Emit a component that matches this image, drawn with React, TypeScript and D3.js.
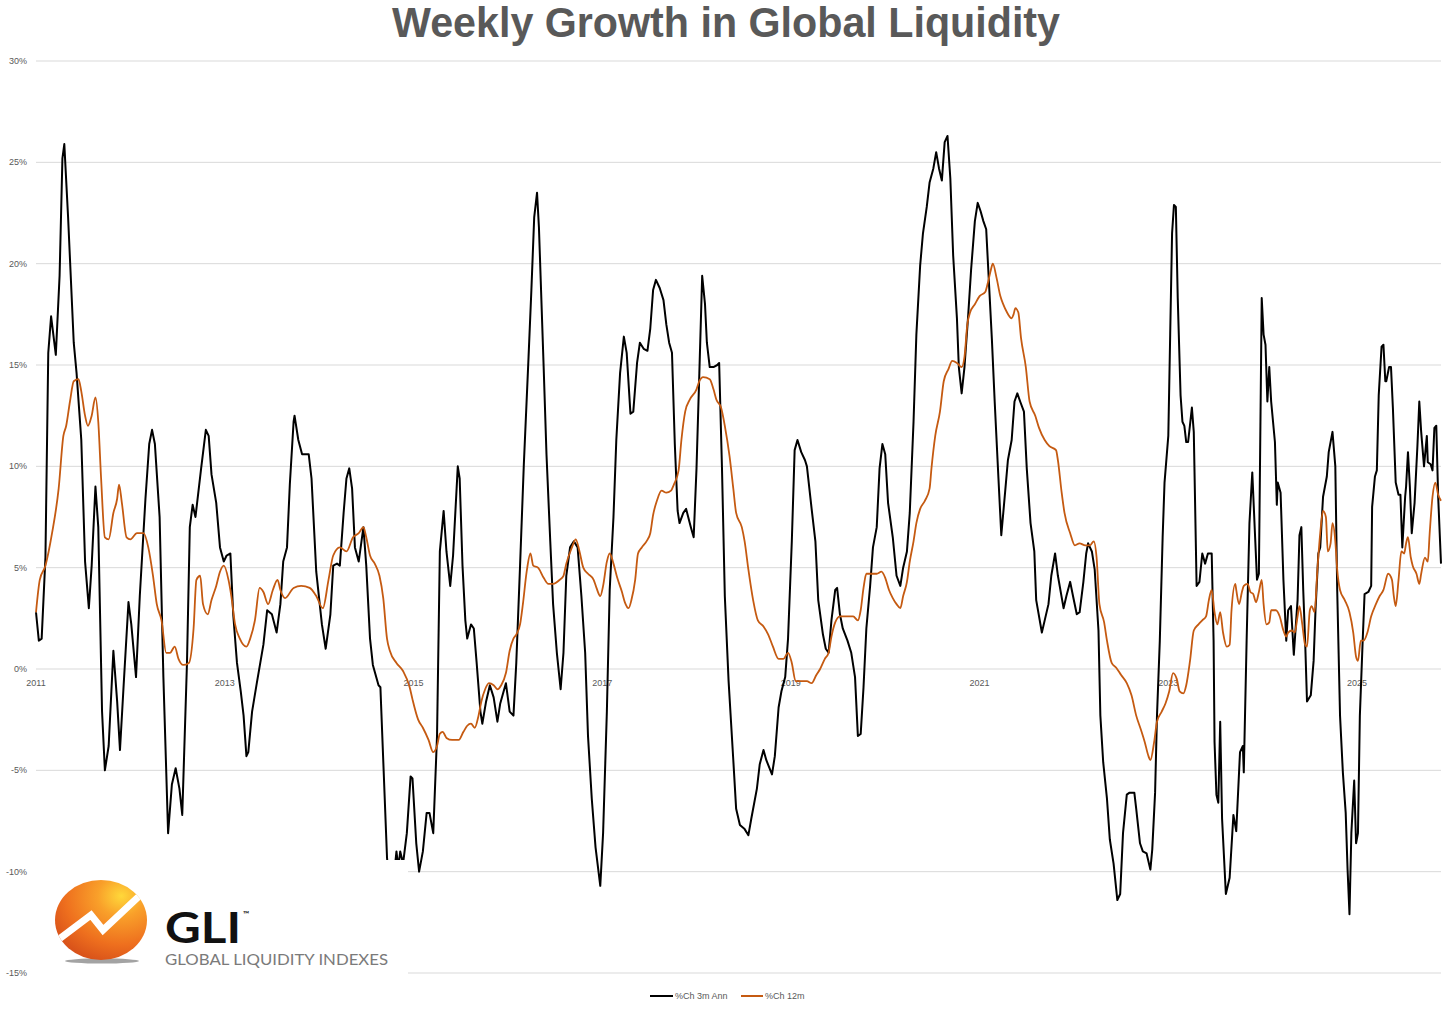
import React from "react";
import * as d3 from "d3";

// ---------- DATA ----------
const yTicks = [30, 25, 20, 15, 10, 5, 0, -5, -10, -15];
const xTickYears = [2011, 2013, 2015, 2017, 2019, 2021, 2023, 2025];
const seriesNames = ["%Ch 3m Ann", "%Ch 12m"];

// %Ch 3m Ann : [decimal year, %]
const ch3mAnn: [number, number][] = [
  [2011.00, 2.8], [2011.03, 1.4], [2011.06, 1.5], [2011.10, 5.5], [2011.13, 15.6], [2011.16, 17.4],
  [2011.21, 15.5], [2011.25, 19.4], [2011.28, 25.2], [2011.30, 25.9], [2011.34, 22.3], [2011.40, 16.1],
  [2011.43, 14.6], [2011.48, 11.3], [2011.52, 5.3], [2011.56, 3.0], [2011.59, 5.1], [2011.63, 9.0],
  [2011.66, 7.0], [2011.70, -2.1], [2011.73, -5.0], [2011.77, -3.8], [2011.82, 0.9], [2011.86, -1.6],
  [2011.89, -4.0], [2011.93, -0.7], [2011.98, 3.3], [2012.01, 2.2], [2012.06, -0.4], [2012.10, 3.6],
  [2012.16, 8.4], [2012.20, 11.1], [2012.23, 11.8], [2012.26, 11.1], [2012.31, 7.5], [2012.35, -0.4],
  [2012.40, -8.1], [2012.44, -5.7], [2012.48, -4.9], [2012.52, -5.9], [2012.55, -7.2], [2012.60, 0.3],
  [2012.63, 7.0], [2012.66, 8.1], [2012.69, 7.5], [2012.75, 9.9], [2012.80, 11.8], [2012.83, 11.5],
  [2012.86, 9.6], [2012.91, 8.2], [2012.95, 6.0], [2012.99, 5.3], [2013.02, 5.6], [2013.06, 5.7],
  [2013.09, 2.7], [2013.13, 0.3], [2013.17, -1.1], [2013.20, -2.3], [2013.23, -4.3], [2013.25, -4.1],
  [2013.29, -2.1], [2013.34, -0.7], [2013.41, 1.2], [2013.45, 2.9], [2013.50, 2.7], [2013.55, 1.8],
  [2013.59, 3.2], [2013.62, 5.3], [2013.66, 6.0], [2013.69, 9.1], [2013.73, 12.2], [2013.74, 12.5],
  [2013.78, 11.3], [2013.82, 10.6], [2013.89, 10.6], [2013.92, 9.4], [2013.97, 4.8], [2014.03, 2.2],
  [2014.07, 1.0], [2014.12, 2.7], [2014.15, 5.1], [2014.19, 5.2], [2014.22, 5.1], [2014.26, 7.7],
  [2014.29, 9.4], [2014.32, 9.9], [2014.35, 8.9], [2014.38, 6.0], [2014.42, 5.3], [2014.47, 7.0],
  [2014.50, 5.1], [2014.54, 1.5], [2014.57, 0.2], [2014.63, -0.8], [2014.65, -0.9], [2014.68, -4.5],
  [2014.72, -9.3], [2014.75, -11.0], [2014.79, -10.4], [2014.82, -9.0], [2014.84, -9.8], [2014.86, -9.0],
  [2014.89, -9.6], [2014.93, -8.1], [2014.97, -5.3], [2014.99, -5.4], [2015.03, -8.6], [2015.06, -10.0],
  [2015.10, -9.0], [2015.14, -7.1], [2015.17, -7.1], [2015.21, -8.1], [2015.25, -3.3], [2015.28, 5.8],
  [2015.32, 7.8], [2015.35, 5.8], [2015.39, 4.1], [2015.42, 5.6], [2015.47, 10.0], [2015.49, 9.4],
  [2015.52, 5.1], [2015.55, 2.4], [2015.57, 1.5], [2015.61, 2.2], [2015.64, 2.0], [2015.67, 0.3],
  [2015.71, -2.1], [2015.73, -2.7], [2015.77, -1.6], [2015.81, -0.8], [2015.85, -1.4], [2015.89, -2.6],
  [2015.92, -1.7], [2015.98, -0.7], [2016.02, -2.1], [2016.06, -2.3], [2016.09, 0.3], [2016.13, 5.1],
  [2016.17, 10.1], [2016.22, 15.4], [2016.25, 18.7], [2016.28, 22.3], [2016.31, 23.5], [2016.33, 21.8],
  [2016.38, 14.9], [2016.41, 10.6], [2016.45, 6.3], [2016.48, 3.2], [2016.52, 0.8], [2016.56, -1.0],
  [2016.59, 0.8], [2016.62, 4.6], [2016.66, 6.0], [2016.70, 6.3], [2016.74, 6.0], [2016.78, 3.6],
  [2016.82, 0.8], [2016.85, -3.3], [2016.89, -6.4], [2016.93, -8.8], [2016.98, -10.7], [2017.01, -8.1],
  [2017.05, -2.1], [2017.08, 3.9], [2017.12, 7.5], [2017.15, 11.3], [2017.19, 14.6], [2017.23, 16.4],
  [2017.26, 15.6], [2017.30, 12.6], [2017.33, 12.7], [2017.37, 15.1], [2017.40, 16.1], [2017.44, 15.8],
  [2017.48, 15.7], [2017.51, 16.8], [2017.54, 18.7], [2017.57, 19.2], [2017.61, 18.8], [2017.65, 18.2],
  [2017.68, 17.0], [2017.71, 16.1], [2017.74, 15.6], [2017.77, 11.1], [2017.80, 7.8], [2017.82, 7.2],
  [2017.86, 7.7], [2017.89, 7.9], [2017.94, 7.0], [2017.97, 6.5], [2018.00, 9.9], [2018.03, 14.6],
  [2018.06, 19.4], [2018.09, 18.0], [2018.11, 16.1], [2018.14, 14.9], [2018.18, 14.9], [2018.22, 15.0],
  [2018.24, 15.1], [2018.27, 9.9], [2018.30, 3.6], [2018.34, -0.6], [2018.39, -4.5], [2018.42, -6.9],
  [2018.46, -7.7], [2018.51, -7.9], [2018.55, -8.2], [2018.58, -7.4], [2018.64, -5.9], [2018.67, -4.7],
  [2018.71, -4.0], [2018.74, -4.5], [2018.80, -5.2], [2018.83, -4.3], [2018.87, -1.9], [2018.90, -1.1],
  [2018.94, -0.4], [2018.97, 1.5], [2019.01, 6.3], [2019.04, 10.8], [2019.07, 11.3], [2019.11, 10.7],
  [2019.15, 10.3], [2019.17, 10.0], [2019.22, 7.9], [2019.26, 6.3], [2019.29, 3.4], [2019.34, 1.7],
  [2019.37, 1.0], [2019.40, 0.8], [2019.43, 2.4], [2019.47, 3.9], [2019.49, 4.0], [2019.52, 2.7],
  [2019.55, 2.0], [2019.60, 1.4], [2019.64, 0.8], [2019.68, -0.4], [2019.71, -3.3], [2019.74, -3.2],
  [2019.77, -0.9], [2019.80, 2.0], [2019.84, 4.1], [2019.87, 6.0], [2019.91, 7.0], [2019.94, 9.9],
  [2019.97, 11.1], [2020.00, 10.6], [2020.03, 8.2], [2020.08, 6.5], [2020.12, 4.6], [2020.16, 4.1],
  [2020.19, 5.0], [2020.23, 5.8], [2020.26, 7.7], [2020.30, 12.2], [2020.33, 16.5], [2020.37, 19.9],
  [2020.40, 21.5], [2020.44, 22.8], [2020.47, 24.0], [2020.51, 24.7], [2020.54, 25.5], [2020.57, 24.7],
  [2020.60, 24.1], [2020.63, 26.0], [2020.66, 26.3], [2020.69, 24.2], [2020.72, 20.4], [2020.76, 17.3],
  [2020.78, 14.9], [2020.81, 13.6], [2020.84, 14.9], [2020.88, 17.5], [2020.91, 19.7], [2020.95, 22.1],
  [2020.98, 23.0], [2021.01, 22.6], [2021.04, 22.1], [2021.07, 21.7], [2021.09, 19.9], [2021.13, 16.3],
  [2021.16, 13.2], [2021.20, 9.4], [2021.23, 6.6], [2021.27, 8.7], [2021.30, 10.3], [2021.34, 11.3],
  [2021.37, 13.2], [2021.40, 13.6], [2021.43, 13.2], [2021.47, 12.7], [2021.50, 9.9], [2021.54, 7.2],
  [2021.58, 5.8], [2021.60, 3.4], [2021.66, 1.8], [2021.69, 2.4], [2021.73, 3.2], [2021.76, 4.6],
  [2021.80, 5.7], [2021.83, 4.6], [2021.89, 3.0], [2021.92, 3.6], [2021.96, 4.3], [2021.99, 3.6],
  [2022.03, 2.7], [2022.06, 2.8], [2022.10, 4.3], [2022.13, 5.7], [2022.15, 6.2], [2022.19, 5.8],
  [2022.22, 4.9], [2022.26, 1.9], [2022.28, -2.3], [2022.31, -4.6], [2022.35, -6.4], [2022.38, -8.4],
  [2022.42, -9.6], [2022.46, -11.4], [2022.49, -11.1], [2022.52, -8.1], [2022.56, -6.2], [2022.59, -6.1],
  [2022.64, -6.1], [2022.66, -6.9], [2022.70, -8.6], [2022.73, -9.0], [2022.77, -9.1], [2022.81, -9.9],
  [2022.83, -8.9], [2022.86, -6.1], [2022.88, -2.3], [2022.91, 1.4], [2022.94, 6.5], [2022.96, 9.2],
  [2023.00, 11.5], [2023.02, 16.5], [2023.04, 21.5], [2023.06, 22.9], [2023.08, 22.8], [2023.10, 18.3],
  [2023.13, 13.5], [2023.15, 12.2], [2023.17, 12.0], [2023.19, 11.2], [2023.21, 11.2], [2023.25, 12.9],
  [2023.27, 11.7], [2023.30, 4.1], [2023.33, 4.3], [2023.36, 5.7], [2023.39, 5.2], [2023.42, 5.7],
  [2023.46, 5.7], [2023.48, 1.4], [2023.49, -3.6], [2023.51, -6.2], [2023.53, -6.6], [2023.55, -2.6],
  [2023.57, -7.4], [2023.61, -11.1], [2023.65, -10.3], [2023.69, -7.2], [2023.72, -8.0], [2023.76, -4.1],
  [2023.79, -3.8], [2023.80, -5.1], [2023.83, 1.4], [2023.86, 7.2], [2023.89, 9.7], [2023.92, 6.5],
  [2023.94, 4.4], [2023.96, 4.7], [2023.99, 18.3], [2024.01, 16.5], [2024.03, 16.0], [2024.05, 13.2],
  [2024.07, 14.9], [2024.09, 13.2], [2024.13, 11.2], [2024.15, 8.1], [2024.16, 9.2], [2024.19, 8.7],
  [2024.22, 4.4], [2024.25, 1.4], [2024.27, 2.9], [2024.30, 3.1], [2024.33, 0.7], [2024.37, 3.4],
  [2024.39, 6.6], [2024.41, 7.0], [2024.43, 3.9], [2024.45, 1.4], [2024.47, -1.6], [2024.51, -1.3],
  [2024.54, 0.4], [2024.56, 2.9], [2024.59, 5.7], [2024.61, 6.0], [2024.64, 8.5], [2024.68, 9.5],
  [2024.70, 10.7], [2024.74, 11.7], [2024.77, 10.0], [2024.79, 3.9], [2024.82, -2.3], [2024.85, -5.1],
  [2024.88, -7.1], [2024.90, -9.9], [2024.92, -12.1], [2024.94, -8.1], [2024.97, -5.5], [2024.99, -8.6],
  [2025.01, -8.1], [2025.03, -2.3], [2025.06, 1.4], [2025.08, 3.7], [2025.12, 3.8], [2025.15, 4.1],
  [2025.16, 8.0], [2025.19, 9.5], [2025.21, 9.8], [2025.23, 13.5], [2025.26, 15.9], [2025.28, 16.0],
  [2025.30, 14.2], [2025.31, 14.2], [2025.34, 14.9], [2025.36, 14.9], [2025.38, 12.9], [2025.41, 9.2],
  [2025.44, 8.6], [2025.46, 8.6], [2025.48, 6.0], [2025.51, 8.5], [2025.52, 9.0], [2025.54, 10.7],
  [2025.56, 9.0], [2025.58, 6.7], [2025.61, 8.2], [2025.64, 11.0], [2025.66, 13.2], [2025.68, 11.7],
  [2025.71, 10.0], [2025.74, 11.5], [2025.75, 10.2], [2025.78, 10.1], [2025.80, 9.8], [2025.82, 11.9],
  [2025.84, 12.0], [2025.86, 8.5], [2025.89, 5.2],
];

// %Ch 12m : [decimal year, %]
const ch12m: [number, number][] = [
  [2011.00, 2.8], [2011.04, 4.4], [2011.10, 5.1], [2011.17, 6.7], [2011.24, 8.9], [2011.29, 11.5],
  [2011.32, 12.0], [2011.36, 13.2], [2011.40, 14.2], [2011.45, 14.3], [2011.48, 13.7], [2011.52, 12.5],
  [2011.55, 12.0], [2011.59, 12.5], [2011.63, 13.4], [2011.66, 12.2], [2011.69, 9.4], [2011.73, 6.5],
  [2011.77, 6.4], [2011.82, 7.7], [2011.86, 8.4], [2011.88, 9.1], [2011.91, 8.2], [2011.96, 6.5],
  [2012.00, 6.4], [2012.07, 6.7], [2012.14, 6.7], [2012.19, 6.0], [2012.24, 4.6], [2012.28, 3.2],
  [2012.33, 2.4], [2012.38, 0.8], [2012.42, 0.8], [2012.47, 1.1], [2012.51, 0.5], [2012.56, 0.2],
  [2012.62, 0.3], [2012.67, 2.0], [2012.70, 4.4], [2012.74, 4.6], [2012.77, 3.2], [2012.82, 2.7],
  [2012.86, 3.4], [2012.91, 4.1], [2012.95, 4.8], [2012.99, 5.1], [2013.04, 4.4], [2013.07, 3.6],
  [2013.11, 2.2], [2013.16, 1.5], [2013.23, 1.1], [2013.27, 1.5], [2013.32, 2.4], [2013.37, 4.0],
  [2013.41, 3.8], [2013.46, 3.2], [2013.51, 3.9], [2013.56, 4.4], [2013.59, 3.9], [2013.64, 3.5],
  [2013.73, 4.0], [2013.81, 4.1], [2013.90, 4.0], [2013.97, 3.6], [2014.04, 3.0], [2014.10, 4.4],
  [2014.15, 5.6], [2014.22, 6.0], [2014.29, 5.8], [2014.36, 6.5], [2014.42, 6.7], [2014.47, 7.0],
  [2014.50, 6.5], [2014.54, 5.6], [2014.59, 5.2], [2014.64, 4.6], [2014.68, 3.5], [2014.72, 1.5],
  [2014.75, 0.9], [2014.82, 0.3], [2014.89, -0.1], [2014.96, -0.9], [2014.99, -1.5], [2015.05, -2.5],
  [2015.10, -2.9], [2015.16, -3.5], [2015.21, -4.1], [2015.25, -3.8], [2015.28, -3.2], [2015.31, -3.1],
  [2015.35, -3.4], [2015.41, -3.5], [2015.48, -3.5], [2015.53, -3.1], [2015.57, -2.8], [2015.61, -2.7],
  [2015.65, -2.9], [2015.69, -2.3], [2015.72, -1.6], [2015.76, -1.0], [2015.80, -0.7], [2015.85, -0.8],
  [2015.89, -1.0], [2015.93, -0.8], [2015.98, -0.2], [2016.02, 0.9], [2016.06, 1.5], [2016.09, 1.7],
  [2016.13, 2.2], [2016.16, 3.2], [2016.20, 4.8], [2016.24, 5.7], [2016.27, 5.1], [2016.32, 5.0],
  [2016.38, 4.5], [2016.43, 4.2], [2016.48, 4.2], [2016.55, 4.4], [2016.59, 4.6], [2016.62, 5.2],
  [2016.68, 6.0], [2016.72, 6.4], [2016.76, 5.8], [2016.80, 5.0], [2016.85, 4.7], [2016.91, 4.4],
  [2016.94, 4.0], [2016.98, 3.6], [2017.01, 4.1], [2017.05, 5.3], [2017.08, 5.7], [2017.12, 5.2],
  [2017.16, 4.5], [2017.21, 3.8], [2017.24, 3.3], [2017.28, 3.0], [2017.31, 3.4], [2017.35, 4.4],
  [2017.38, 5.7], [2017.42, 6.0], [2017.47, 6.3], [2017.51, 6.7], [2017.54, 7.6], [2017.58, 8.3],
  [2017.63, 8.8], [2017.68, 8.7], [2017.73, 8.8], [2017.76, 9.1], [2017.81, 9.8], [2017.84, 11.3],
  [2017.88, 12.7], [2017.93, 13.3], [2018.00, 13.8], [2018.03, 14.2], [2018.07, 14.4], [2018.14, 14.3],
  [2018.18, 13.8], [2018.21, 13.3], [2018.26, 12.9], [2018.30, 12.0], [2018.35, 10.5], [2018.39, 8.9],
  [2018.42, 7.7], [2018.48, 7.0], [2018.51, 6.3], [2018.55, 4.9], [2018.60, 3.4], [2018.65, 2.4],
  [2018.71, 2.1], [2018.76, 1.7], [2018.81, 1.1], [2018.87, 0.5], [2018.92, 0.5], [2018.97, 0.8],
  [2019.01, 0.3], [2019.05, -0.6], [2019.11, -0.6], [2019.17, -0.6], [2019.22, -0.7], [2019.27, -0.3],
  [2019.31, 0.0], [2019.36, 0.5], [2019.40, 0.8], [2019.43, 1.6], [2019.47, 2.3], [2019.52, 2.6],
  [2019.59, 2.6], [2019.66, 2.6], [2019.71, 2.4], [2019.74, 2.9], [2019.77, 4.0], [2019.80, 4.7],
  [2019.86, 4.7], [2019.91, 4.7], [2019.96, 4.8], [2020.00, 4.5], [2020.04, 3.9], [2020.08, 3.5],
  [2020.12, 3.2], [2020.16, 3.0], [2020.19, 3.6], [2020.23, 4.3], [2020.26, 5.3], [2020.30, 6.3],
  [2020.33, 7.2], [2020.37, 7.9], [2020.42, 8.3], [2020.47, 8.9], [2020.49, 9.9], [2020.53, 11.5],
  [2020.58, 12.7], [2020.62, 14.2], [2020.67, 14.8], [2020.71, 15.2], [2020.76, 15.1], [2020.81, 14.9],
  [2020.84, 15.4], [2020.87, 17.0], [2020.90, 17.6], [2020.95, 18.0], [2021.00, 18.4], [2021.06, 18.6],
  [2021.09, 19.1], [2021.12, 19.7], [2021.14, 20.0], [2021.18, 19.3], [2021.22, 18.4], [2021.25, 18.0],
  [2021.29, 17.6], [2021.34, 17.3], [2021.36, 17.5], [2021.38, 17.8], [2021.41, 17.6], [2021.44, 16.3],
  [2021.49, 14.9], [2021.53, 13.2], [2021.59, 12.5], [2021.63, 11.9], [2021.69, 11.3], [2021.74, 11.0],
  [2021.81, 10.8], [2021.83, 10.3], [2021.87, 8.7], [2021.90, 7.7], [2021.96, 6.7], [2022.01, 6.1],
  [2022.06, 6.2], [2022.12, 6.1], [2022.17, 6.1], [2022.21, 6.3], [2022.24, 5.5], [2022.27, 3.2],
  [2022.32, 2.3], [2022.35, 1.4], [2022.40, 0.3], [2022.45, 0.05], [2022.50, -0.3], [2022.56, -0.7],
  [2022.61, -1.3], [2022.66, -2.3], [2022.71, -3.0], [2022.75, -3.6], [2022.79, -4.3], [2022.81, -4.5],
  [2022.85, -3.6], [2022.88, -2.6], [2022.93, -2.1], [2022.97, -1.7], [2023.01, -1.1], [2023.05, -0.2],
  [2023.09, -0.5], [2023.12, -1.1], [2023.16, -1.2], [2023.19, -0.8], [2023.23, 0.4], [2023.27, 1.9],
  [2023.32, 2.2], [2023.36, 2.4], [2023.40, 2.6], [2023.43, 3.4], [2023.46, 3.9], [2023.49, 2.8],
  [2023.52, 2.2], [2023.55, 2.8], [2023.58, 1.8], [2023.62, 1.1], [2023.65, 1.2], [2023.67, 2.9],
  [2023.71, 4.2], [2023.72, 3.9], [2023.75, 3.2], [2023.78, 3.8], [2023.80, 4.1], [2023.84, 4.2],
  [2023.87, 3.8], [2023.90, 3.7], [2023.93, 3.3], [2023.96, 3.8], [2023.99, 4.4], [2024.01, 3.2],
  [2024.04, 2.2], [2024.07, 2.3], [2024.09, 2.9], [2024.14, 2.9], [2024.18, 2.6], [2024.22, 1.9],
  [2024.25, 1.6], [2024.27, 1.8], [2024.31, 1.9], [2024.34, 1.8], [2024.37, 2.6], [2024.39, 3.1],
  [2024.42, 2.2], [2024.45, 1.2], [2024.47, 1.1], [2024.50, 2.9], [2024.52, 3.1], [2024.55, 2.8],
  [2024.58, 4.9], [2024.61, 6.7], [2024.64, 7.8], [2024.67, 7.5], [2024.69, 5.8], [2024.72, 6.2],
  [2024.74, 7.2], [2024.77, 6.3], [2024.79, 4.9], [2024.82, 3.9], [2024.87, 3.4], [2024.92, 2.8],
  [2024.96, 1.8], [2024.99, 0.6], [2025.01, 0.4], [2025.04, 1.4], [2025.07, 1.4], [2025.11, 1.8],
  [2025.15, 2.6], [2025.20, 3.2], [2025.24, 3.6], [2025.28, 3.9], [2025.33, 4.7], [2025.37, 4.4],
  [2025.39, 3.6], [2025.41, 3.1], [2025.44, 4.4], [2025.47, 5.8], [2025.50, 5.7], [2025.52, 6.2],
  [2025.54, 6.5], [2025.57, 5.5], [2025.59, 5.1], [2025.63, 4.7], [2025.66, 4.2], [2025.68, 4.7],
  [2025.72, 5.5], [2025.75, 5.3], [2025.77, 6.7], [2025.80, 8.5], [2025.83, 9.2], [2025.86, 8.6],
  [2025.89, 8.3],
];

// ---------- LAYOUT ----------
const W = 1452;
const H = 1010;
const plotLeft = 36;
const plotRight = 1441;
const plotTop = 61;
const plotBottom = 973;
const textColor = "#595959";
const gridColor = "#d9d9d9";
const blackColor = "#000000";
const orangeColor = "#c55a11";
const labelFont = "'Liberation Sans', Arial, sans-serif";

export default function App() {
  const x = d3.scaleLinear().domain([2011, 2025.89]).range([plotLeft, plotRight]);
  const y = d3.scaleLinear().domain([-15, 30]).range([plotBottom, plotTop]);

  const line = d3
    .line<[number, number]>()
    .x((d) => x(d[0]))
    .y((d) => y(d[1]));
  const smoothLine = d3
    .line<[number, number]>()
    .x((d) => x(d[0]))
    .y((d) => y(d[1]))
    .curve(d3.curveMonotoneX);

  const legendY = 996;

  return (
    <svg
      width={W}
      height={H}
      viewBox={`0 0 ${W} ${H}`}
      style={{ position: "absolute", left: 0, top: 0, background: "#fff" }}
    >
      <defs>
        <radialGradient id="logoGrad" cx="72%" cy="20%" r="85%">
          <stop offset="0%" stopColor="#ffd83a" />
          <stop offset="30%" stopColor="#f9a02a" />
          <stop offset="72%" stopColor="#ee6f1e" />
          <stop offset="100%" stopColor="#d9531a" />
        </radialGradient>
        <clipPath id="logoClip">
          <ellipse cx={101} cy={920} rx={46} ry={40} />
        </clipPath>
      </defs>
      <rect x={0} y={0} width={W} height={H} fill="#fff" />

      {/* Title */}
      <text
        x={W / 2}
        y={37}
        textAnchor="middle"
        fontFamily={labelFont}
        fontWeight="bold"
        fontSize={42}
        fill={textColor}
        textLength={668}
        lengthAdjust="spacingAndGlyphs"
      >
        Weekly Growth in Global Liquidity
      </text>

      {/* Gridlines and y labels */}
      {yTicks.map((t) => (
        <g key={t}>
          <line x1={plotLeft} x2={plotRight} y1={y(t)} y2={y(t)} stroke={gridColor} strokeWidth={1} />
          <text
            x={27}
            y={y(t) + 3}
            textAnchor="end"
            fontFamily={labelFont}
            fontSize={9}
            fill={textColor}
          >
            {`${t}%`}
          </text>
        </g>
      ))}

      {/* X labels */}
      {xTickYears.map((yr) => (
        <text
          key={yr}
          x={x(yr)}
          y={y(0) + 17}
          textAnchor="middle"
          fontFamily={labelFont}
          fontSize={9}
          fill={textColor}
        >
          {yr}
        </text>
      ))}

      {/* Series */}
      <path d={line(ch3mAnn) || ""} fill="none" stroke={blackColor} strokeWidth={2} strokeLinejoin="round" />
      <path d={smoothLine(ch12m) || ""} fill="none" stroke={orangeColor} strokeWidth={1.8} strokeLinejoin="round" />

      {/* Logo block (white box covering the plot) */}
      <rect x={30} y={860} width={378} height={125} fill="#fff" />
      <ellipse cx={102} cy={961} rx={37} ry={2.6} fill="#8c8c8c" opacity={0.8} />
      <ellipse cx={101} cy={920} rx={46} ry={40} fill="url(#logoGrad)" />
      <g clipPath="url(#logoClip)">
        <polyline
          points="50,946 91,915 103,930 150,886"
          fill="none"
          stroke="#fff"
          strokeWidth={7}
          strokeLinejoin="miter"
        />
      </g>
      <text
        x={165}
        y={943}
        fontFamily="Lato, 'DejaVu Sans', sans-serif"
        fontSize={42}
        fontWeight="bold"
        fill="#111"
        textLength={76}
        lengthAdjust="spacingAndGlyphs"
      >
        GLI
      </text>
      <text x={243} y={917} fontFamily="Lato, sans-serif" fontSize={8} fontWeight="bold" fill="#222">
        ™
      </text>
      <text
        x={165}
        y={965}
        fontFamily="Lato, 'DejaVu Sans', sans-serif"
        fontSize={14.5}
        fill="#7a7a7a"
        textLength={223}
        lengthAdjust="spacingAndGlyphs"
      >
        GLOBAL LIQUIDITY INDEXES
      </text>

      {/* Legend */}
      <line x1={650} x2={673} y1={legendY} y2={legendY} stroke={blackColor} strokeWidth={2} />
      <text x={675} y={legendY + 3} fontFamily={labelFont} fontSize={9} fill={textColor}>
        {seriesNames[0]}
      </text>
      <line x1={741} x2={763} y1={legendY} y2={legendY} stroke={orangeColor} strokeWidth={2} />
      <text x={765} y={legendY + 3} fontFamily={labelFont} fontSize={9} fill={textColor}>
        {seriesNames[1]}
      </text>
    </svg>
  );
}
